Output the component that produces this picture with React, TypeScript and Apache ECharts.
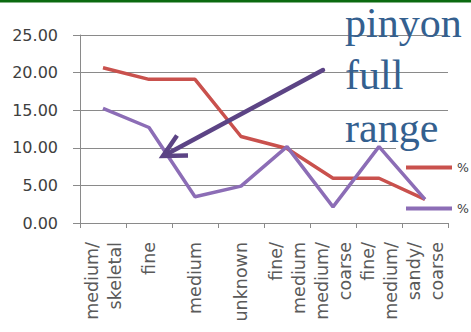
import React, { useEffect, useRef } from "react";
import * as echarts from "echarts";

const categories = [
  "medium/\nskeletal",
  "fine",
  "medium",
  "unknown",
  "fine/\nmedium",
  "medium/\ncoarse",
  "fine/\nmedium/",
  "sandy/\ncoarse",
];
const redValues = [20.65, 19.1, 19.1, 11.5, 9.9, 5.95, 5.95, 3.15];
const purpleValues = [15.25, 12.7, 3.5, 4.9, 10.15, 2.15, 10.15, 3.15];
const seriesNames = ["% red", "% purple"];
const yTicks = [0, 5, 10, 15, 20, 25];
const annotationLines = ["pinyon", "full", "range"];

export default function App() {
  const ref = useRef<HTMLDivElement>(null);
  useEffect(() => {
    if (!ref.current) return;
    const chart = echarts.init(ref.current, null, { renderer: "svg" });
    const gray = "#8a8a8a";
    const textYs = [23, 74.5, 127.5];
    chart.setOption({
      animation: false,
      backgroundColor: "#ffffff",
      grid: { left: 80, right: 23, top: 35, bottom: 109, containLabel: false },
      legend: {
        orient: "vertical",
        left: 406,
        top: 161,
        padding: 0,
        itemWidth: 46,
        itemHeight: 4,
        itemGap: 28,
        icon: "rect",
        formatter: () => "%",
        textStyle: { fontFamily: "DejaVu Sans", fontSize: 12.5, color: "#404040" },
        data: seriesNames,
      },
      xAxis: {
        type: "category",
        data: categories,
        boundaryGap: true,
        axisLine: { show: true, lineStyle: { color: gray, width: 1 } },
        axisTick: { show: true, length: 5, lineStyle: { color: gray } },
        axisLabel: {
          interval: 0,
          rotate: 90,
          margin: 19,
          fontFamily: "DejaVu Sans",
          fontSize: 17.5,
          lineHeight: 23,
          color: "#5a5a5a",
        },
      },
      yAxis: {
        type: "value",
        min: 0,
        max: 25,
        interval: 5,
        axisLine: { show: true, lineStyle: { color: gray, width: 1 } },
        axisTick: { show: true, length: 7, lineStyle: { color: gray } },
        splitLine: { show: true, lineStyle: { color: gray, width: 1 } },
        axisLabel: {
          margin: 22,
          fontFamily: "DejaVu Sans",
          fontSize: 16,
          color: "#404040",
          formatter: (v: number) => (yTicks.includes(v) ? v.toFixed(2) : ""),
        },
      },
      series: [
        {
          name: seriesNames[0],
          type: "line",
          data: redValues,
          symbol: "none",
          z: 3,
          lineStyle: { color: "#C9514D", width: 3.5 },
          itemStyle: { color: "#C9514D" },
        },
        {
          name: seriesNames[1],
          type: "line",
          data: purpleValues,
          symbol: "none",
          z: 3,
          lineStyle: { color: "#8C6DB6", width: 3.5 },
          itemStyle: { color: "#8C6DB6" },
        },
      ],
      graphic: [
        { type: "rect", z: 1, shape: { x: 0, y: 0, width: 471, height: 2.5 }, style: { fill: "#0B6A10" } },
        { type: "rect", z: 1, shape: { x: 396, y: 142, width: 75, height: 76 }, style: { fill: "#ffffff" } },
        {
          type: "line",
          z: 10,
          shape: { x1: 323, y1: 70, x2: 166, y2: 154.5 },
          style: { stroke: "#5C4485", lineWidth: 4.5, lineCap: "round" },
        },
        {
          type: "polyline",
          z: 10,
          shape: { points: [[188, 155.5], [163, 156], [177, 135.5]] },
          style: { stroke: "#5C4485", lineWidth: 4.5, lineJoin: "miter", fill: "none" },
        },
        ...annotationLines.map((t, i) => ({
          type: "text",
          z: 10,
          x: 345,
          y: textYs[i],
          style: {
            text: t,
            fontFamily: "Liberation Serif",
            fontSize: 42,
            fill: "#34608F",
            verticalAlign: "middle",
            align: "left",
          },
        })),
      ],
    });
    return () => chart.dispose();
  }, []);
  return (
    <div
      ref={ref}
      style={{ position: "fixed", left: 0, top: 0, width: 471, height: 332, background: "#fff" }}
    />
  );
}
